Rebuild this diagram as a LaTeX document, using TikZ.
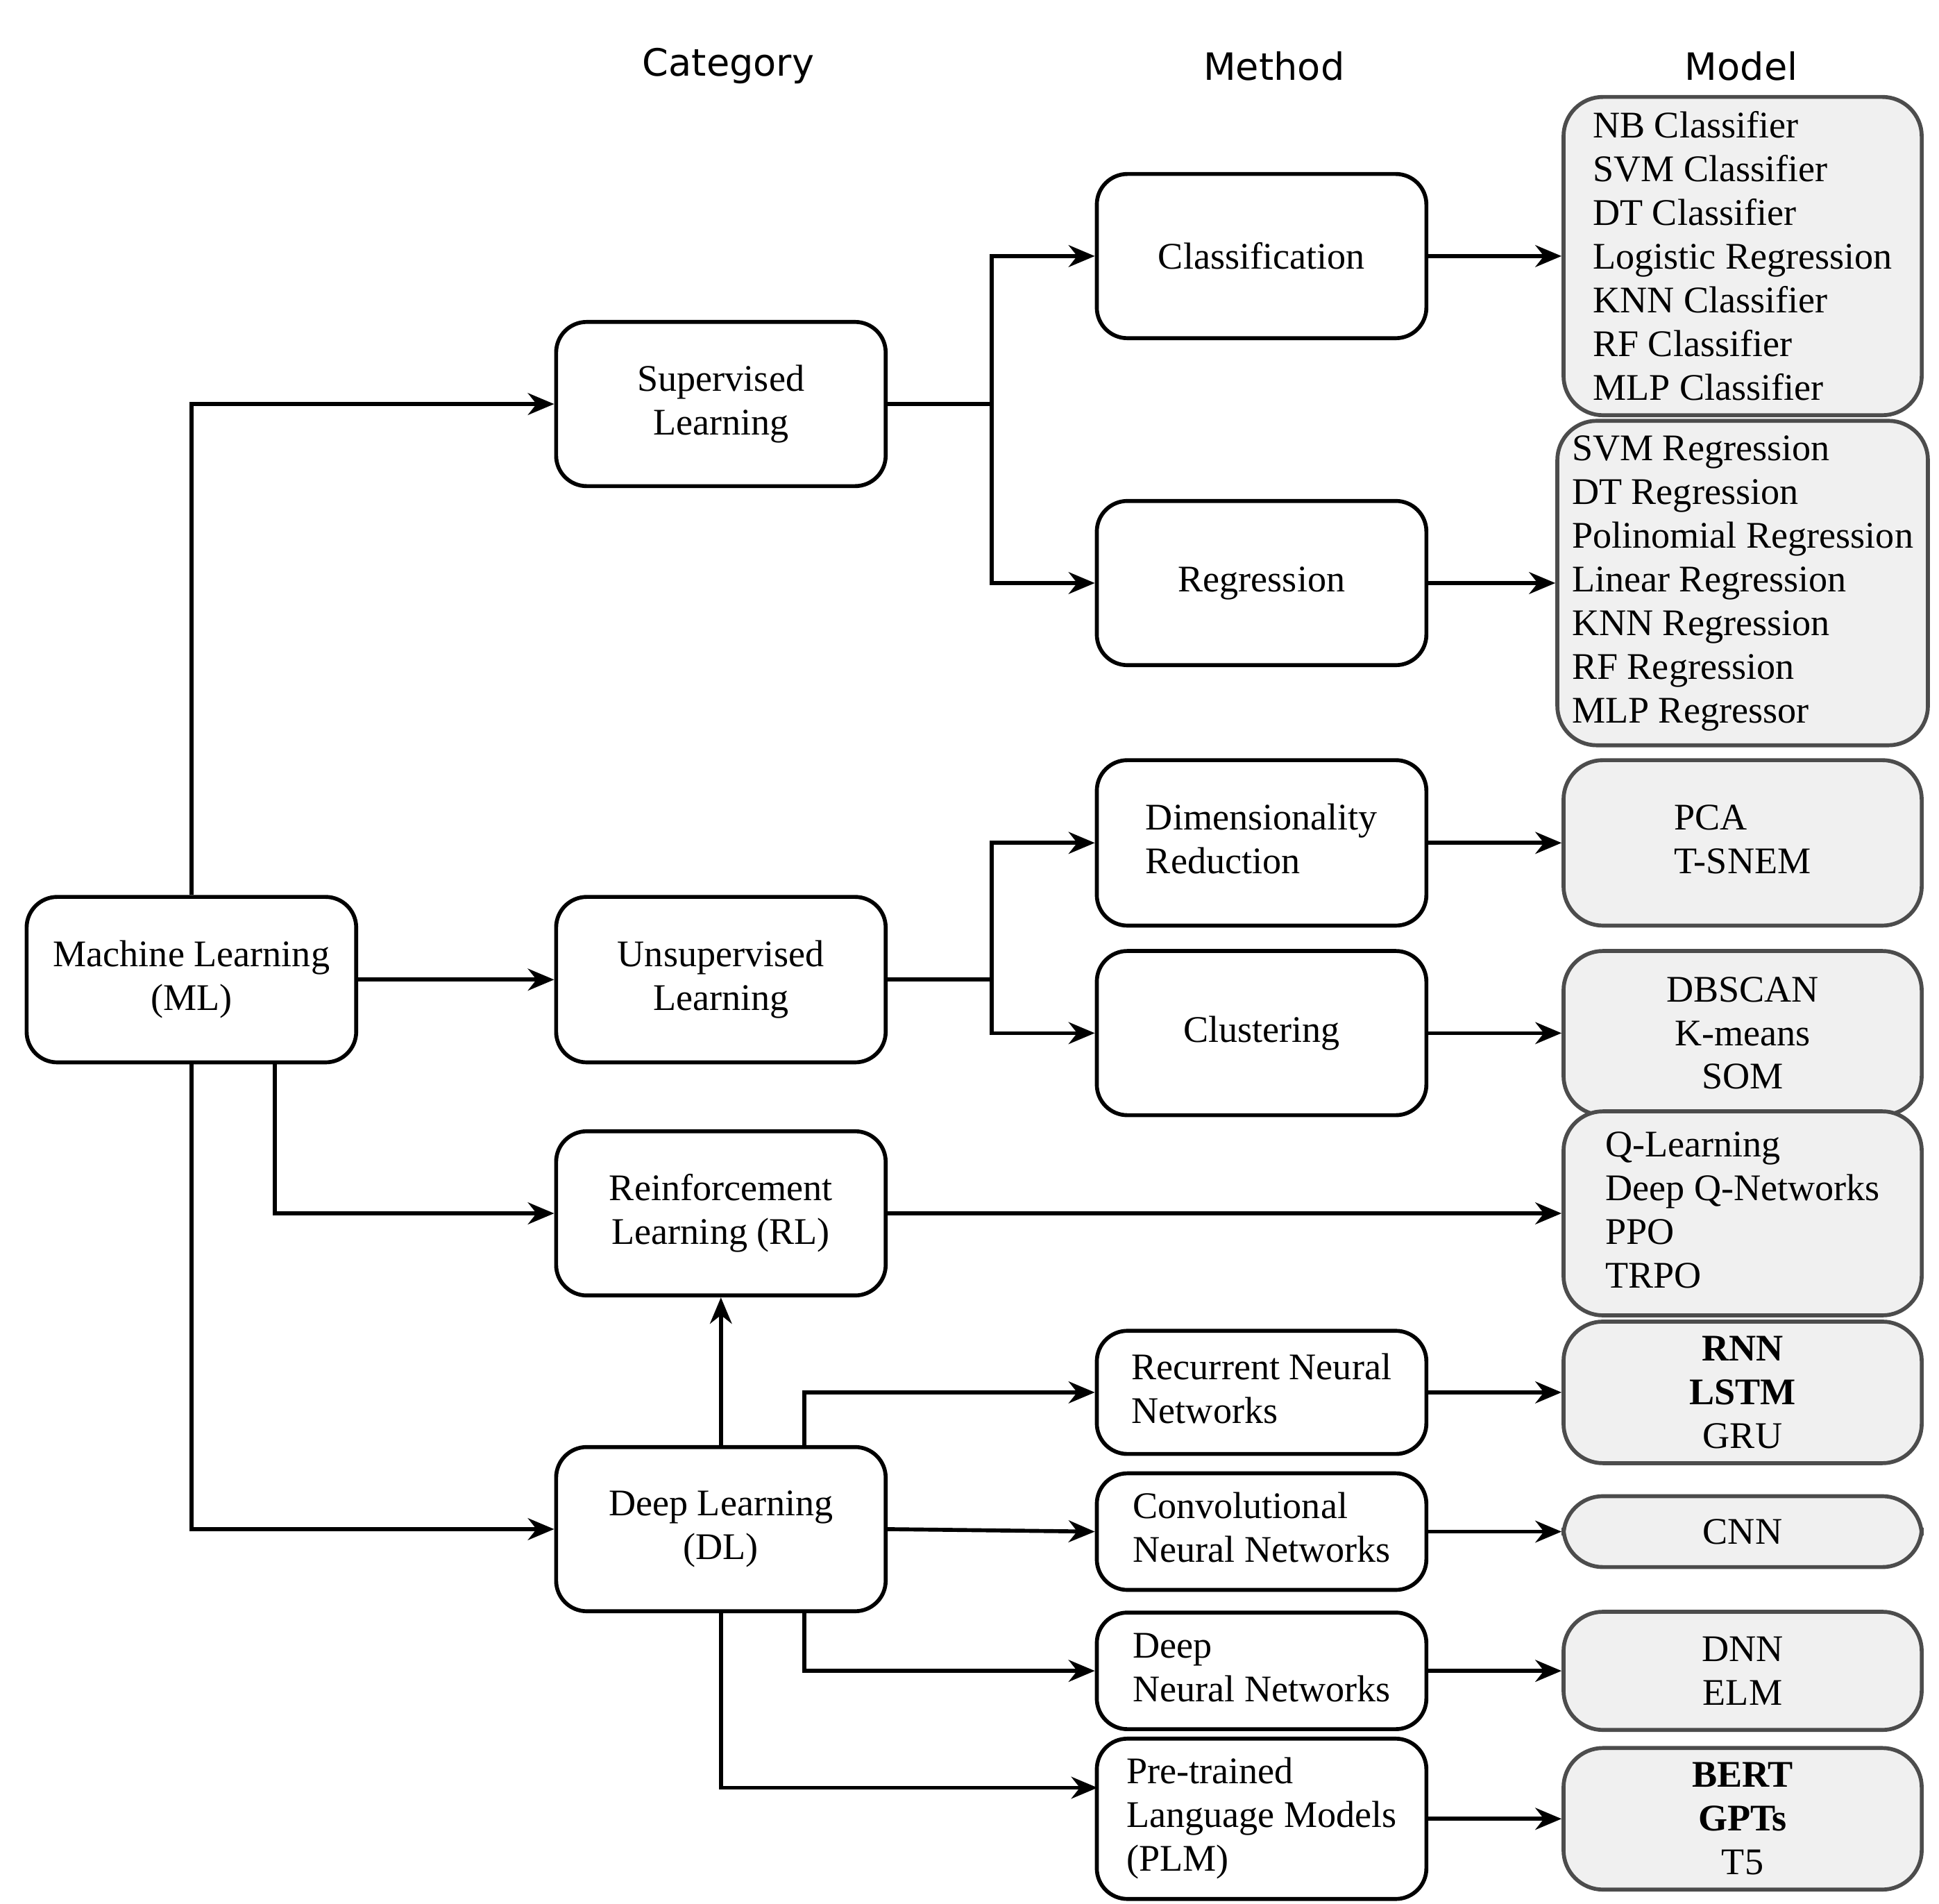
\documentclass[tikz,border=0pt]{standalone}
\usepackage{fontspec}
\setmainfont{Liberation Serif}
\newfontfamily\hdr{DejaVu Sans}
\usetikzlibrary{arrows.meta}
\begin{document}
\begin{tikzpicture}[x=0.01cm,y=-0.01cm,
  every node/.style={font=\fontsize{8.6}{10}\selectfont},
  box/.style={draw,line width=0.9pt,rounded corners=7pt,minimum width=2.65cm,align=center},
  mbox/.style={draw=black!70,fill=black!6,line width=0.9pt,rounded corners=9pt,minimum width=2.88cm,align=left},
  hd/.style={font=\hdr\fontsize{8.6}{10}\selectfont},
  ar/.style={-{Stealth[length=6pt,width=5pt]},line width=0.9pt},
  ln/.style={line width=0.9pt}]
\useasboundingbox (0,0) rectangle (1560,1531);
\node[hd] at (586,53) {Category};
\node[hd] at (1025,53) {Method};
\node[hd] at (1401,53) {Model};
% category
\node[box,minimum height=1.33cm] (ml) at (154,788) {Machine Learning\\(ML)};
\node[box,minimum height=1.32cm] (sup) at (580,325) {Supervised\\Learning};
\node[box,minimum height=1.33cm] (uns) at (580,788) {Unsupervised\\Learning};
\node[box,minimum height=1.32cm] (rl) at (580,976) {Reinforcement\\Learning (RL)};
\node[box,minimum height=1.32cm] (dl) at (580,1230) {Deep Learning\\(DL)};
% method
\node[box,minimum height=1.32cm] (cls) at (1015,206) {Classification};
\node[box,minimum height=1.32cm] (reg) at (1015,469) {Regression};
\node[box,minimum height=1.33cm] (dr) at (1015,678) {\begin{tabular}{@{}l@{}}Dimensionality\\Reduction\end{tabular}};
\node[box,minimum height=1.32cm] (clu) at (1015,831) {Clustering};
\node[box,minimum height=0.99cm] (rnn) at (1015,1120) {\begin{tabular}{@{}l@{}}Recurrent Neural\\Networks\end{tabular}};
\node[box,minimum height=0.89cm] (cnn) at (1015,1232) {\begin{tabular}{@{}l@{}}Convolutional\\Neural Networks\end{tabular}};
\node[box,minimum height=0.88cm] (dnn) at (1015,1344) {\begin{tabular}{@{}l@{}}Deep\\Neural Networks\end{tabular}};
\node[box,minimum height=1.0cm] (plm) at (1015,1463) {\begin{tabular}{@{}l@{}}Pre-trained\\Language Models\\(PLM)\end{tabular}};
% model
\node[mbox,minimum height=2.42cm] (mcls) at (1402,206) {NB Classifier\\SVM Classifier\\DT Classifier\\Logistic Regression\\KNN Classifier\\RF Classifier\\MLP Classifier};
\node[mbox,minimum height=2.54cm] (mreg) at (1402,469) {SVM Regression\\DT Regression\\Polinomial Regression\\Linear Regression\\KNN Regression\\RF Regression\\MLP Regressor};
\node[mbox,minimum height=1.33cm] (mdr) at (1402,678) {\begin{tabular}{@{}l@{}}PCA\\T-SNEM\end{tabular}};
\node[mbox,minimum height=1.32cm,align=center] (mclu) at (1402,831) {DBSCAN\\K-means\\SOM};
\node[mbox,minimum height=1.32cm] (mrl) at (1402,976) {\begin{tabular}{@{}l@{}}Q-Learning\\Deep Q-Networks\\PPO\\TRPO\end{tabular}};
\node[mbox,minimum height=1.1cm,align=center] (mrnn) at (1402,1120) {\textbf{RNN}\\\textbf{LSTM}\\GRU};
\node[mbox,minimum height=0.57cm,align=center] (mcnn) at (1402,1232) {CNN};
\node[mbox,minimum height=0.95cm,align=center] (mdnn) at (1402,1344) {DNN\\ELM};
\node[mbox,minimum height=1.12cm,align=center] (mplm) at (1402,1463) {\textbf{BERT}\\\textbf{GPTs}\\T5};
% ML connectors
\draw[ar] (ml.north) |- (sup.west);
\draw[ar] (ml.east) -- (uns.west);
\draw[ar] (ml.south east) ++(-67,0) |- (rl.west);
\draw[ar] (ml.south) |- (dl.west);
% supervised / unsupervised buses
\coordinate (b1) at (798,325);
\draw[ln] (sup.east) -- (b1);
\draw[ar] (b1) |- (cls.west);
\draw[ar] (b1) |- (reg.west);
\coordinate (b2) at (798,788);
\draw[ln] (uns.east) -- (b2);
\draw[ar] (b2) |- (dr.west);
\draw[ar] (b2) |- (clu.west);
% deep learning
\draw[ar] (dl.north) -- (rl.south);
\draw[ar] (647,1164) |- (rnn.west);
\draw[ar] (dl.east) -- (cnn.west);
\draw[ar] (647,1296) |- (dnn.west);
\draw[ar] (dl.south) |- (883,1438);
% method to model
\draw[ar] (cls.east) -- (mcls.west);
\draw[ar] (reg.east) -- (mreg.west);
\draw[ar] (dr.east) -- (mdr.west);
\draw[ar] (clu.east) -- (mclu.west);
\draw[ar] (rl.east) -- (mrl.west);
\draw[ar] (rnn.east) -- (mrnn.west);
\draw[ar] (cnn.east) -- (mcnn.west);
\draw[ar] (dnn.east) -- (mdnn.west);
\draw[ar] (plm.east) -- (mplm.west);
\end{tikzpicture}
\end{document}
